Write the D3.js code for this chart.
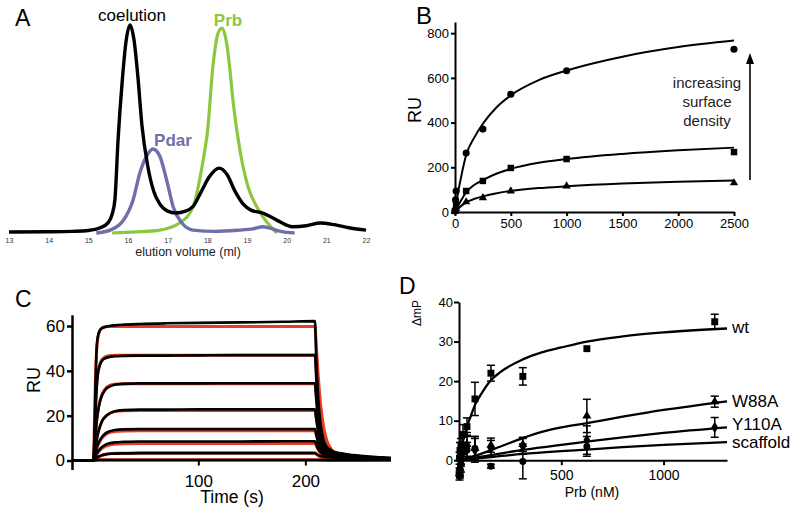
<!DOCTYPE html>
<html><head><meta charset="utf-8">
<script src="https://cdn.jsdelivr.net/npm/d3@7"></script>
<style>
body{margin:0;background:#fff}
svg text{font-family:"Liberation Sans",Arial,Helvetica,sans-serif}
</style>
</head><body>
<svg id="c" width="800" height="514"></svg>
<script>
// ---------- Panel A : elution profiles (volume ml, normalised absorbance) ----------
const aTicks = [13,14,15,16,17,18,19,20,21,22];
const aCoelution = [[13,0.005],[14,0.006],[14.6,0.008],[15,0.012],[15.3,0.025],[15.5,0.05],[15.6,0.09],[15.67,0.16],[15.75,0.45],[15.85,0.72],[15.95,0.92],[16.05,1.0],[16.15,0.93],[16.25,0.75],[16.35,0.52],[16.5,0.32],[16.65,0.2],[16.8,0.14],[17.0,0.105],[17.2,0.096],[17.45,0.105],[17.65,0.13],[17.85,0.2],[18.05,0.27],[18.3,0.312],[18.5,0.28],[18.7,0.2],[18.9,0.14],[19.1,0.11],[19.4,0.096],[19.75,0.062],[20.15,0.03],[20.5,0.035],[20.85,0.048],[21.2,0.04],[21.6,0.024],[22,0.014]];
const aPrb = [[15.6,0],[16.2,0.005],[16.8,0.014],[17.3,0.048],[17.64,0.125],[17.8,0.25],[17.92,0.38],[18.0,0.48],[18.14,0.8],[18.27,0.96],[18.37,0.985],[18.47,0.93],[18.55,0.82],[18.65,0.63],[18.82,0.4],[19.03,0.22],[19.25,0.125],[19.5,0.053],[19.75,0]];
const aPdar = [[15.2,0],[15.55,0.014],[15.88,0.06],[16.13,0.16],[16.3,0.29],[16.47,0.37],[16.63,0.404],[16.8,0.37],[16.98,0.25],[17.14,0.125],[17.36,0.048],[17.64,0.014],[18.2,0.008],[18.8,0.014],[19.15,0.02],[19.4,0.03],[19.6,0.022],[19.85,0.008],[20.2,0]];

// ---------- Panel B : equilibrium SPR (conc nM, RU) ----------
const bTicksX = [0,500,1000,1500,2000,2500];
const bTicksY = [0,200,400,600,800];
const bHighPts = [[0,5],[5,54],[10,94],[100,264],[250,371],[500,527],[1000,632],[2500,728]];
const bMidPts  = [[0,5],[10,30],[100,94],[250,139],[500,197],[1000,237],[2500,268]];
const bLowPts  = [[0,3],[10,15],[100,45],[250,63],[500,94],[1000,116],[2500,130]];
const bHighFit = [[0,0],[10,32],[25,80],[50,145],[100,255],[175,335],[250,395],[375,470],[500,522],[750,590],[1000,633],[1500,695],[2000,738],[2500,767]];
const bMidFit  = [[0,0],[10,10],[25,25],[50,48],[100,88],[175,122],[250,143],[375,172],[500,193],[750,220],[1000,237],[1500,260],[2000,276],[2500,288]];
const bLowFit  = [[0,0],[10,5],[25,13],[50,25],[100,43],[175,59],[250,70],[375,84],[500,94],[750,107],[1000,115],[1500,127],[2000,135],[2500,141]];

// ---------- Panel C : sensorgrams (time s, RU) ----------
const cTicksX = [100,200];
const cTicksY = [0,20,40,60];
const cTime = [-18,2,3,4,5,6,8,10,13,17,22,30,45,70,100,140,180,209,210,212,214,217,220,225,232,245,280];
const cData = [
 [0,0,12,35,50,55,58,59,59.6,60,60.3,60.6,60.9,61.2,61.4,61.6,61.9,62.2,48,28,17,9,6,4.3,3.3,2.4,1.1],
 [0,0,8,22,32,38,42.5,44.5,45.6,46.2,46.5,46.7,46.8,46.8,46.9,47,47,47,38,23,14,8,5.5,4,3.1,2.2,1.1],
 [0,0,4,11,17,21,26,29,31.5,33,33.8,34.2,34.4,34.4,34.4,34.5,34.5,34.5,28,18,11,6.5,4.5,3.5,2.8,2,1],
 [0,0,2.5,6,9,11.5,15,17.5,19.5,21,22,22.5,22.7,22.7,22.8,22.8,22.8,22.8,19,12.5,8,5,3.8,3,2.4,1.8,0.9],
 [0,0,1.5,3.5,5.5,7,9,10.5,12,13,13.6,13.9,14,14,14,14,14,14,12,8,5.5,3.8,3,2.5,2,1.5,0.8],
 [0,0,0.8,2,3,3.8,5,6,7,7.7,8.1,8.3,8.5,8.5,8.5,8.5,8.6,8.6,7.5,5.2,3.8,2.8,2.3,2,1.7,1.3,0.7],
 [0,0,0.4,0.8,1.2,1.5,2,2.4,2.7,3,3.1,3.2,3.3,3.3,3.3,3.3,3.3,3.3,3,2.4,2,1.7,1.5,1.4,1.2,1,0.6],
 [0,0,0.1,0.1,0.1,0.2,0.2,0.2,0.2,0.2,0.2,0.2,0.2,0.2,0.2,0.2,0.2,0.2,0.2,0.2,0.2,0.2,0.2,0.2,0.2,0.2,0.3]
];
const cFit = [
 [0,0,18,38,49,54,58,59.2,59.7,59.8,59.8,59.8,59.8,59.8,59.8,59.8,59.8,59.8,53,38,26,15,9,4.5,2,0.6,0],
 [0,0,9,24,33,38.5,43,45,46.3,46.8,47,47,47,47,47,47,47,47,41.7,29.9,20.4,11.8,7.1,3.5,1.6,0.5,0],
 [0,0,4.5,11.5,17.5,21.5,26.5,29.5,32,33.4,34,34.2,34.2,34.2,34.2,34.2,34.2,34.2,30.3,21.7,14.9,8.6,5.1,2.6,1.1,0.3,0],
 [0,0,2.5,6,9,11.5,15,17.5,19.5,21,21.8,22.2,22.3,22.3,22.3,22.3,22.3,22.3,19.8,14.2,9.7,5.6,3.4,1.7,0.7,0.2,0],
 [0,0,1.4,3.3,5,6.5,8.5,10,11.5,12.5,13,13.2,13.3,13.3,13.3,13.3,13.3,13.3,11.8,8.5,5.8,3.3,2,1,0.4,0.1,0],
 [0,0,0.7,1.8,2.7,3.4,4.5,5.4,6.3,6.9,7.3,7.5,7.6,7.6,7.6,7.6,7.6,7.6,6.7,4.8,3.3,1.9,1.1,0.6,0.3,0.1,0],
 [0,0,0.3,0.7,1.1,1.4,1.9,2.3,2.7,3,3.2,3.3,3.4,3.4,3.4,3.4,3.4,3.4,3,2.2,1.5,0.9,0.5,0.3,0.1,0,0],
 [0,0,0.1,0.1,0.2,0.2,0.3,0.3,0.3,0.3,0.3,0.3,0.3,0.3,0.3,0.3,0.3,0.3,0.3,0.25,0.2,0.15,0.1,0.05,0,0,0]
];

// ---------- Panel D : fluorescence polarisation (Prb nM, ΔmP) ----------
const dTicksX = [500,1000];
const dTicksY = [0,10,20,30,40];
const dConc = [2.4,4.9,9.8,19.5,39,78,156,312,625,1250];
const dWtY   = [0.5,2.5,3.5,6.5,8.5,15.5,22,21.2,28.2,35];
const dWtE   = [1.5,2,2,2.5,2.2,4.2,2,2.2,0,1.9];
const dW88Y  = [-3,-2,0.5,2,4,3,3.8,4,11.2,14.8];
const dW88E  = [1,2,2,2,3,3,1.8,1.8,4.2,1.4];
const dY110Y = [-2,-1,1,2.5,3,2.5,3,3.5,5.1,8.3];
const dY110E = [2,2,2,2,3,3,2,2,3.6,2.5];
const dScafConc = [2.4,4.9,9.8,19.5,39,78,156,312,625];
const dScafY = [-4,-3.5,-1,2,2.5,3,-1.5,-0.3,3.5];
const dScafE = [1,1,2,2,2,3,0.5,4.4,2.5];
const dWtFit   = [[0,0],[20,5],[39,8.5],[60,11.5],[78,14],[100,16],[156,20.2],[200,22.2],[312,25.5],[400,27.2],[500,28.5],[625,30],[800,31.3],[1000,32.3],[1310,33.3]];
const dW88Fit  = [[0,0],[100,1.5],[200,3.4],[312,5.6],[400,7.1],[500,8.3],[625,9.4],[800,11],[1000,12.7],[1310,14.9]];
const dY110Fit = [[0,0],[156,1.3],[312,2.6],[500,3.9],[625,4.7],[800,5.8],[1000,6.9],[1310,8.3]];
const dScafFit = [[0,0],[156,0.8],[312,1.6],[500,2.3],[625,2.7],[800,3.3],[1000,3.9],[1310,4.6]];

// ================= drawing =================
const svg = d3.select("#c");
const fmt = d3.format("d");
function label(g, x, y, s, size, opt={}) {
  const t = g.append("text").attr("x",x).attr("y",y).text(s)
    .attr("font-size",size).attr("fill",opt.fill||"#000")
    .attr("text-anchor",opt.anchor||"start");
  if (opt.bold) t.attr("font-weight","bold");
  if (opt.rotate) t.attr("transform",`rotate(-90,${x},${y})`);
  return t;
}
function styleAxis(g, w, fs) {
  g.selectAll("path.domain").attr("stroke","#000").attr("stroke-width",w);
  g.selectAll(".tick line").attr("stroke","#000").attr("stroke-width",w);
  g.selectAll(".tick text").attr("font-size",fs).attr("fill","#000")
    .attr("font-family",'"Liberation Sans",Arial,sans-serif');
}

// ---- Panel A ----
{
  const g = svg.append("g");
  const x = d3.scaleLinear().domain([13,22]).range([9,366]);
  const y = d3.scaleLinear().domain([0,1]).range([233,25]);
  const line = d3.line().x(d=>x(d[0])).y(d=>y(d[1])).curve(d3.curveMonotoneX);
  g.append("path").datum(aPrb).attr("d",line).attr("fill","none").attr("stroke","#8dc63f").attr("stroke-width",3.2);
  g.append("path").datum(aPdar).attr("d",line).attr("fill","none").attr("stroke","#6f6fab").attr("stroke-width",3.4);
  g.append("path").datum(aCoelution).attr("d",line).attr("fill","none").attr("stroke","#000").attr("stroke-width",3.4);
  const ax = g.append("g").attr("transform","translate(0,233)")
    .call(d3.axisBottom(x).tickValues(aTicks).tickSize(0).tickPadding(5).tickFormat(fmt));
  ax.select("path.domain").remove();
  ax.selectAll(".tick text").attr("font-size",7).attr("fill","#333");
  label(g,188,256,"elution volume (ml)",12.5,{anchor:"middle",fill:"#222"});
  label(g,132,21,"coelution",17,{anchor:"middle"});
  label(g,228,26,"Prb",17,{anchor:"middle",bold:true,fill:"#8dc63f"});
  label(g,173,146,"Pdar",17,{anchor:"middle",bold:true,fill:"#6f6fab"});
  label(g,15,26,"A",23);
}

// ---- Panel B ----
{
  const g = svg.append("g");
  const x = d3.scaleLinear().domain([0,2500]).range([455,734]);
  const y = d3.scaleLinear().domain([0,850]).range([212,22]);
  const line = d3.line().x(d=>x(d[0])).y(d=>y(d[1])).curve(d3.curveMonotoneX);
  [bHighFit,bMidFit,bLowFit].forEach(f=>{
    g.append("path").datum(f).attr("d",line).attr("fill","none").attr("stroke","#000").attr("stroke-width",2);
  });
  const sets = [[bHighPts,d3.symbolCircle,40],[bMidPts,d3.symbolSquare,42],[bLowPts,d3.symbolTriangle,30]];
  sets.forEach(([pts,sym,size])=>{
    g.selectAll(null).data(pts).join("path")
      .attr("d",d3.symbol().type(sym).size(size))
      .attr("transform",d=>`translate(${x(d[0])},${y(d[1])})`).attr("fill","#000");
  });
  const ay = g.append("g").attr("transform","translate(455,0)")
    .call(d3.axisLeft(y).tickValues(bTicksY).tickSize(4).tickSizeOuter(0).tickPadding(2).tickFormat(fmt));
  styleAxis(ay,2,13);
  const ax = g.append("g").attr("transform","translate(0,212)")
    .call(d3.axisBottom(x).tickValues(bTicksX).tickSize(4).tickSizeOuter(0).tickPadding(3).tickFormat(fmt));
  styleAxis(ax,2,13);
  label(g,421,110,"RU",18,{anchor:"middle",rotate:true});
  label(g,416,24,"B",24);
  g.append("line").attr("x1",750).attr("x2",750).attr("y1",180).attr("y2",62).attr("stroke","#000").attr("stroke-width",1.6);
  g.append("path").attr("d","M750,53 L746,64 L754,64 Z").attr("fill","#000");
  label(g,707,88,"increasing",15,{anchor:"middle",fill:"#222"});
  label(g,707,107,"surface",15,{anchor:"middle",fill:"#222"});
  label(g,707,126,"density",15,{anchor:"middle",fill:"#222"});
}

// ---- Panel C ----
{
  const g = svg.append("g");
  const x = d3.scaleLinear().domain([-18,280]).range([72,391]);
  const y = d3.scaleLinear().domain([-4,65]).range([469.5,314.8]);
  const line = d3.line().x((d,i)=>x(cTime[i])).y(d=>y(d)).curve(d3.curveMonotoneX);
  cFit.forEach(f=>{
    g.append("path").datum(f).attr("d",line).attr("fill","none").attr("stroke","#ea3b24").attr("stroke-width",3);
  });
  cData.forEach(f=>{
    g.append("path").datum(f).attr("d",line).attr("fill","none").attr("stroke","#000").attr("stroke-width",2.6);
  });
  const ay = g.append("g").attr("transform","translate(72,0)")
    .call(d3.axisLeft(y).tickValues(cTicksY).tickSize(5).tickSizeOuter(0).tickPadding(2).tickFormat(fmt));
  styleAxis(ay,2.5,17);
  const ax = g.append("g").attr("transform",`translate(0,${y(0)})`)
    .call(d3.axisBottom(x).tickValues(cTicksX).tickSize(5).tickSizeOuter(0).tickPadding(9).tickFormat(fmt));
  ax.select("path.domain").remove();
  styleAxis(ax,2,17);
  label(g,232,503,"Time (s)",17.5,{anchor:"middle"});
  label(g,40,380,"RU",18,{anchor:"middle",rotate:true});
  label(g,15,307,"C",23);
}

// ---- Panel D ----
{
  const g = svg.append("g");
  const x = d3.scaleLinear().domain([0,1310]).range([459,727]);
  const y = d3.scaleLinear().domain([-5,40]).range([480,302]);
  const line = d3.line().x(d=>x(d[0])).y(d=>y(d[1])).curve(d3.curveMonotoneX);
  const ax = g.append("g").attr("transform",`translate(0,${y(0)})`)
    .call(d3.axisBottom(x).tickValues(dTicksX).tickSize(5).tickSizeOuter(0).tickPadding(5).tickFormat(fmt));
  styleAxis(ax,2,14);
  const ay = g.append("g").attr("transform","translate(459,0)")
    .call(d3.axisLeft(y).tickValues(dTicksY).tickSize(5).tickSizeOuter(0).tickPadding(1).tickFormat(fmt));
  styleAxis(ay,2,13);
  [dWtFit,dW88Fit,dY110Fit,dScafFit].forEach(f=>{
    g.append("path").datum(f).attr("d",line).attr("fill","none").attr("stroke","#000").attr("stroke-width",2.3);
  });
  const series = [
    [dScafConc,dScafY,dScafE,d3.symbolCircle,38],
    [dConc,dY110Y,dY110E,d3.symbolDiamond,40],
    [dConc,dW88Y,dW88E,d3.symbolTriangle,36],
    [dConc,dWtY,dWtE,d3.symbolSquare,48]
  ];
  series.forEach(([cx,cy,ce,sym,size])=>{
    const pts = cy.map((v,i)=>({x:cx[i],y:v,e:ce[i]}));
    const eb = g.append("g").attr("stroke","#000").attr("stroke-width",1.5);
    pts.filter(p=>p.e>0).forEach(p=>{
      const px = x(p.x);
      eb.append("line").attr("x1",px).attr("x2",px).attr("y1",y(p.y-p.e)).attr("y2",y(p.y+p.e));
      eb.append("line").attr("x1",px-4).attr("x2",px+4).attr("y1",y(p.y-p.e)).attr("y2",y(p.y-p.e));
      eb.append("line").attr("x1",px-4).attr("x2",px+4).attr("y1",y(p.y+p.e)).attr("y2",y(p.y+p.e));
    });
    g.selectAll(null).data(pts).join("path")
      .attr("d",d3.symbol().type(sym).size(size))
      .attr("transform",p=>`translate(${x(p.x)},${y(p.y)})`).attr("fill","#000");
  });
  label(g,732,333,"wt",17);
  label(g,732,407,"W88A",17);
  label(g,732,430,"Y110A",17);
  label(g,732,448,"scaffold",17);
  label(g,592,497,"Prb (nM)",14,{anchor:"middle"});
  label(g,421,313,"ΔmP",12,{anchor:"middle",rotate:true});
  label(g,399,294,"D",23);
}
</script>
</body></html>
